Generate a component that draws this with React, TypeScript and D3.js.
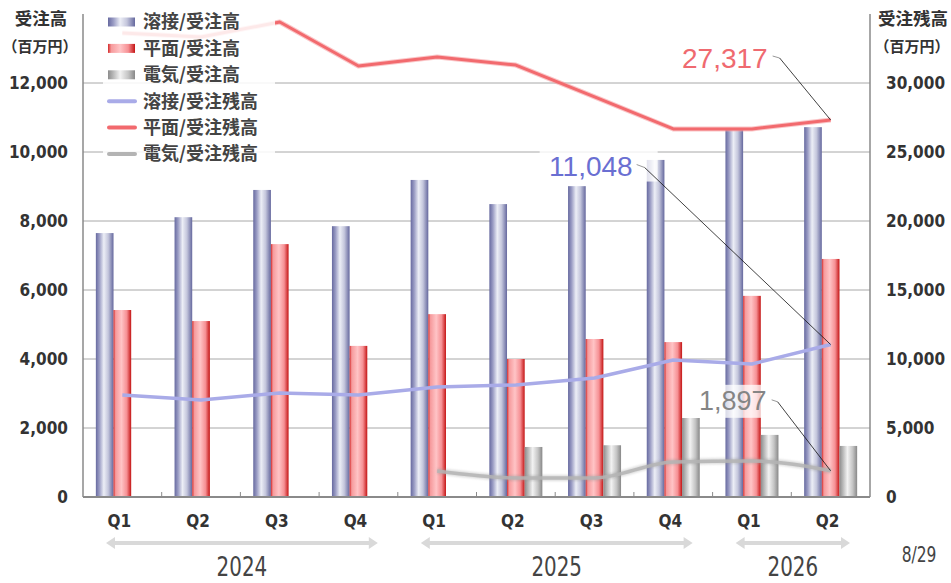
import React from "react";
import * as d3 from "d3";

const quarters = ["Q1", "Q2", "Q3", "Q4", "Q1", "Q2", "Q3", "Q4", "Q1", "Q2"];
const years = [
  { label: "2024", from: 0, to: 3 },
  { label: "2025", from: 4, to: 7 },
  { label: "2026", from: 8, to: 9 },
];
const weldOrders = [7650, 8110, 8900, 7850, 9190, 8490, 9010, 9770, 10680, 10720];
const flatOrders = [5420, 5100, 7330, 4380, 5300, 4000, 4580, 4490, 5830, 6900];
const elecOrders = [0, 0, 0, 0, 0, 1450, 1500, 2290, 1800, 1480];
const weldBacklog = [7390, 7030, 7540, 7390, 7970, 8120, 8620, 9930, 9640, 11048];
const flatBacklog = [33620, 33330, 34420, 31230, 31880, 31300, 28990, 26670, 26670, 27317];
const elecBacklog: (number | null)[] = [null, null, null, null, 1880, 1380, 1380, 2540, 2610, 1897];
const leftTicks = [0, 2000, 4000, 6000, 8000, 10000, 12000];
const rightTicks = [0, 5000, 10000, 15000, 20000, 25000, 30000];
const legendItems = [
  { name: "溶接/受注高", kind: "bar", key: "blue" },
  { name: "平面/受注高", kind: "bar", key: "red" },
  { name: "電気/受注高", kind: "bar", key: "gray" },
  { name: "溶接/受注残高", kind: "line", key: "blue" },
  { name: "平面/受注残高", kind: "line", key: "red" },
  { name: "電気/受注残高", kind: "line", key: "gray" },
];
const dateNote = "8/29";

const W = 951, H = 583;
const L = 83, R = 870, T = 14, B = 497;
const lineColors: Record<string, string> = { blue: "#a9abe8", red: "#f26a6e", gray: "#b4b4b4" };
const numFont = "'DejaVu Sans Condensed', 'DejaVu Sans', sans-serif";
const jpFont = "'Noto Sans CJK JP', sans-serif";

export default function App() {
  const idx = quarters.map((_, i) => String(i));
  const x = d3.scaleBand<string>().domain(idx).range([L, R]).paddingInner(0).paddingOuter(0);
  const sub = d3.scaleBand<string>().domain(["w", "f", "e"]).range([-26.5, 26.5]);
  const yL = d3.scaleLinear().domain([0, 14000]).range([B, T]);
  const yR = d3.scaleLinear().domain([0, 35000]).range([B, T]);
  const cx = (i: number) => (x(String(i)) as number) + x.bandwidth() / 2;
  const fmt = d3.format(",");

  const lineLin = d3.line<number>().x((_, i) => cx(i)).y((d) => yR(d));
  const lineSmooth = d3
    .line<number | null>()
    .defined((d) => d != null)
    .x((_, i) => cx(i))
    .y((d) => yR(d as number))
    .curve(d3.curveMonotoneX);

  const barSeries = [
    { key: "w", data: weldOrders, grad: "gBlue" },
    { key: "f", data: flatOrders, grad: "gRed" },
    { key: "e", data: elecOrders, grad: "gGray" },
  ];

  const last = quarters.length - 1;
  const pFlat = { x: cx(last), y: yR(flatBacklog[last]) };
  const pWeld = { x: cx(last), y: yR(weldBacklog[last]) };
  const pElec = { x: cx(last), y: yR(elecBacklog[last] as number) };

  return (
    <svg width={W} height={H} style={{ position: "absolute", left: 0, top: 0, background: "#fff" }}>
      <defs>
        <linearGradient id="gBlue" x1="0" x2="1" y1="0" y2="0">
          <stop offset="0" stopColor="#676aa0" />
          <stop offset="0.2" stopColor="#9a9cc4" />
          <stop offset="0.45" stopColor="#eceef6" />
          <stop offset="0.7" stopColor="#c4c6dc" />
          <stop offset="1" stopColor="#65689e" />
        </linearGradient>
        <linearGradient id="gRed" x1="0" x2="1" y1="0" y2="0">
          <stop offset="0" stopColor="#d42a2a" />
          <stop offset="0.12" stopColor="#f69a9c" />
          <stop offset="0.45" stopColor="#ffc4c6" />
          <stop offset="0.75" stopColor="#f69094" />
          <stop offset="1" stopColor="#c41414" />
        </linearGradient>
        <linearGradient id="gGray" x1="0" x2="1" y1="0" y2="0">
          <stop offset="0" stopColor="#8c8c8c" />
          <stop offset="0.45" stopColor="#f2f2f2" />
          <stop offset="0.75" stopColor="#c4c4c4" />
          <stop offset="1" stopColor="#888" />
        </linearGradient>
        <filter id="blur1" x="-5%" y="-50%" width="110%" height="200%">
          <feGaussianBlur stdDeviation="0.8" />
        </filter>
      </defs>

      {/* gridlines */}
      {leftTicks.filter((t) => t > 0).map((t) => (
        <line key={t} x1={L} x2={R} y1={yL(t)} y2={yL(t)} stroke="#a8a8a8" strokeWidth={1} />
      ))}

      {/* bars */}
      {barSeries.map((s) =>
        s.data.map((v, i) =>
          v > 0 ? (
            <rect
              key={s.key + i}
              x={cx(i) + (sub(s.key) as number)}
              y={yL(v)}
              width={sub.bandwidth()}
              height={B - yL(v)}
              fill={`url(#${s.grad})`}
            />
          ) : null
        )
      )}

      {/* lines */}
      <path d={lineSmooth(elecBacklog) || ""} fill="none" stroke="#9a9a9a" strokeWidth={6} opacity={0.35} filter="url(#blur1)" />
      <path d={lineSmooth(elecBacklog) || ""} fill="none" stroke={lineColors.gray} strokeWidth={3.5} opacity={0.85} />
      <path d={lineLin(weldBacklog) || ""} fill="none" stroke={lineColors.blue} strokeWidth={3.5} strokeLinejoin="round" />
      <path d={lineLin(flatBacklog) || ""} fill="none" stroke="#f7a0a3" strokeWidth={5} strokeLinejoin="round" opacity={0.6} />
      <path d={lineLin(flatBacklog) || ""} fill="none" stroke={lineColors.red} strokeWidth={3} strokeLinejoin="round" />

      {/* axes */}
      <line x1={L} x2={L} y1={T} y2={B} stroke="#8a8a8a" strokeWidth={1.5} />
      <line x1={R} x2={R} y1={T} y2={B} stroke="#8a8a8a" strokeWidth={1.5} />
      <line x1={L} x2={R} y1={B} y2={B} stroke="#8a8a8a" strokeWidth={2} />
      {d3.range(1, quarters.length).map((k) => {
        const xx = x(String(k)) as number;
        return <line key={k} x1={xx} x2={xx} y1={B} y2={B - 5} stroke="#8a8a8a" strokeWidth={1} />;
      })}
      {leftTicks.map((t) => (
        <text key={t} x={68} y={yL(t)} dy="0.36em" textAnchor="end" fontFamily={numFont} fontWeight="bold" fontSize={17} fill="#333">
          {fmt(t)}
        </text>
      ))}
      {rightTicks.map((t) => (
        <text key={t} x={886} y={yR(t)} dy="0.36em" textAnchor="start" fontFamily={numFont} fontWeight="bold" fontSize={17} fill="#333">
          {fmt(t)}
        </text>
      ))}

      {/* axis titles */}
      <text x={41} y={25} textAnchor="middle" fontFamily={jpFont} fontWeight="bold" fontSize={17.5} fill="#333">受注高</text>
      <text x={40} y={52} textAnchor="middle" fontFamily={jpFont} fontWeight="bold" fontSize={15} fill="#333">（百万円）</text>
      <text x={913} y={25} textAnchor="middle" fontFamily={jpFont} fontWeight="bold" fontSize={17.5} fill="#333">受注残高</text>
      <text x={912} y={52} textAnchor="middle" fontFamily={jpFont} fontWeight="bold" fontSize={15} fill="#333">（百万円）</text>

      {/* category labels */}
      {quarters.map((q, i) => (
        <text key={i} x={cx(i) - 3} y={527} textAnchor="middle" fontFamily={numFont} fontWeight="bold" fontSize={17} fill="#333">
          {q}
        </text>
      ))}
      {years.map((yv) => {
        const x0 = (x(String(yv.from)) as number) + 23;
        const x1 = (x(String(yv.to)) as number) + x.bandwidth() - 20;
        const ay = 543;
        const mid = (x0 + x1) / 2;
        return (
          <g key={yv.label}>
            <line x1={x0 + 6} x2={x1 - 6} y1={ay} y2={ay} stroke="#d9d9d9" strokeWidth={4} />
            <path d={`M${x0},${ay} L${x0 + 9},${ay - 6} L${x0 + 9},${ay + 6} Z`} fill="#d9d9d9" />
            <path d={`M${x1},${ay} L${x1 - 9},${ay - 6} L${x1 - 9},${ay + 6} Z`} fill="#d9d9d9" />
            <text transform={`translate(${mid},576) scale(0.82,1)`} textAnchor="middle" fontFamily={numFont} fontSize={27} fill="#444">
              {yv.label}
            </text>
          </g>
        );
      })}
      <text transform="translate(919,562) scale(0.82,1)" textAnchor="middle" fontFamily={numFont} fontSize={21} fill="#444">
        {dateNote}
      </text>

      {/* legend */}
      <rect x={103} y={5} width={172} height={160} fill="#fff" opacity={0.85} />
      {legendItems.map((it, i) => {
        const yy = 22 + i * 26.4;
        return (
          <g key={it.name}>
            {it.kind === "bar" ? (
              <rect x={108} y={yy - 4.5} width={27} height={9} fill={`url(#${it.key === "blue" ? "gBlue" : it.key === "red" ? "gRed" : "gGray"})`} />
            ) : (
              <line x1={109} x2={135} y1={yy} y2={yy} stroke={lineColors[it.key]} strokeWidth={4} strokeLinecap="round" />
            )}
            <text x={143} y={yy} dy="0.36em" fontFamily={jpFont} fontWeight="bold" fontSize={18} fill="#444">
              {it.name}
            </text>
          </g>
        );
      })}

      {/* data labels */}
      <rect x={pWeld.x - 291} y={pWeld.y - 194} width={118} height={31} fill="#fff" opacity={0.8} />
      <rect x={pElec.x - 135} y={pElec.y - 86} width={75} height={33} fill="#fff" opacity={0.75} />

      <polyline points={`${pFlat.x - 58},${pFlat.y - 64} ${pFlat.x - 51},${pFlat.y - 62}`} fill="none" stroke="#999" strokeWidth={1} />
      <line x1={pFlat.x - 51} y1={pFlat.y - 62} x2={pFlat.x} y2={pFlat.y} stroke="#111" strokeWidth={0.8} />
      <text x={pFlat.x - 63} y={pFlat.y - 62} dy="0.36em" textAnchor="end" fontFamily="'Liberation Sans', Arial, sans-serif" fontSize={28} fill="#ef6a70">
        {fmt(flatBacklog[last])}
      </text>

      <polyline points={`${pWeld.x - 194},${pWeld.y - 180} ${pWeld.x - 186},${pWeld.y - 177}`} fill="none" stroke="#999" strokeWidth={1} />
      <line x1={pWeld.x - 186} y1={pWeld.y - 177} x2={pWeld.x} y2={pWeld.y} stroke="#111" strokeWidth={0.8} />
      <text x={pWeld.x - 198} y={pWeld.y - 179} dy="0.36em" textAnchor="end" fontFamily="'Liberation Sans', Arial, sans-serif" fontSize={28} fill="#6a6fd2">
        {fmt(weldBacklog[last])}
      </text>

      <polyline points={`${pElec.x - 59},${pElec.y - 71} ${pElec.x - 53},${pElec.y - 69}`} fill="none" stroke="#999" strokeWidth={1} />
      <line x1={pElec.x - 53} y1={pElec.y - 69} x2={pElec.x} y2={pElec.y} stroke="#111" strokeWidth={0.8} />
      <text x={pElec.x - 64} y={pElec.y - 71} dy="0.36em" textAnchor="end" fontFamily="'Liberation Sans', Arial, sans-serif" fontSize={27} fill="#858585">
        {fmt(elecBacklog[last] as number)}
      </text>
    </svg>
  );
}
